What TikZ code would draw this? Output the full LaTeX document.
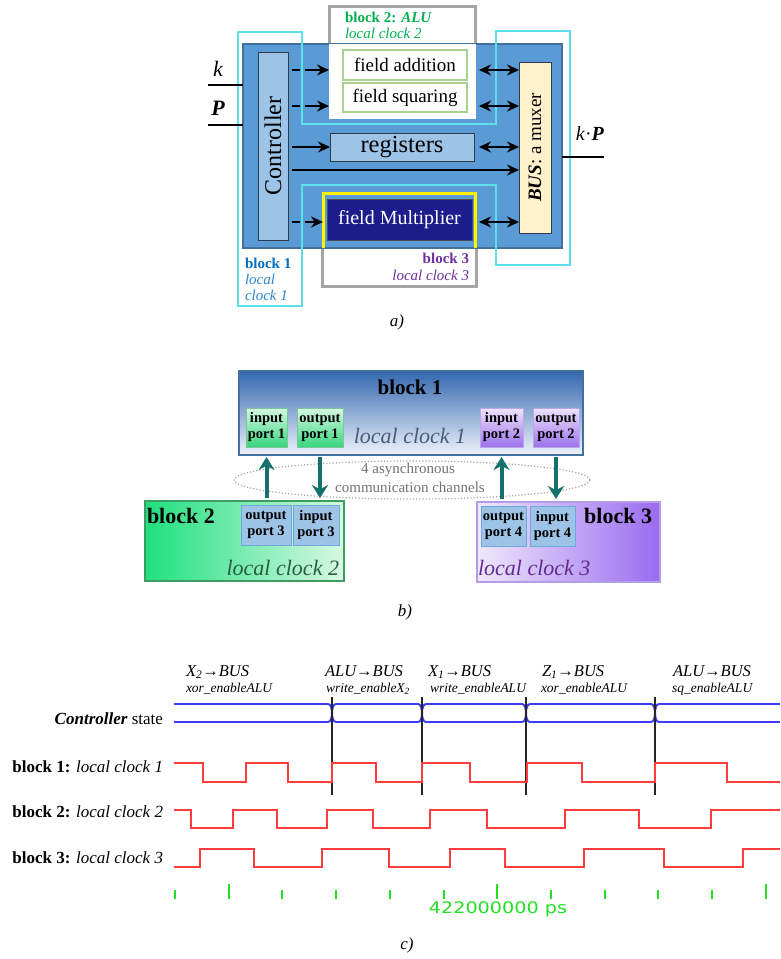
\documentclass[tikz,border=0pt]{standalone}
\usepackage{fontspec}
\setmainfont{Liberation Serif}
\newfontfamily\wavefont{DejaVu Sans}
\usetikzlibrary{arrows.meta,shapes.geometric}

\definecolor{mainblue}{HTML}{5B9BD5}
\definecolor{mainedge}{HTML}{41719C}
\definecolor{lightblue}{HTML}{9DC3E6}
\definecolor{boxedge}{HTML}{2F3A48}
\definecolor{cyanline}{HTML}{5CE0EA}
\definecolor{greyframe}{HTML}{A6A6A6}
\definecolor{alugreen}{HTML}{00B050}
\definecolor{fieldedge}{HTML}{A9D18E}
\definecolor{navy}{HTML}{1C1C8C}
\definecolor{busfill}{HTML}{FFF2CC}
\definecolor{bonecol}{HTML}{0070C0}
\definecolor{bonelight}{HTML}{2E86D0}
\definecolor{bthree}{HTML}{7030A0}
\definecolor{portblue}{HTML}{9DC3E6}
\definecolor{portedge}{HTML}{6FA8DC}
\definecolor{chanteal}{HTML}{16706B}
\definecolor{wblue}{HTML}{3C3CFF}
\definecolor{wred}{HTML}{FF3B3B}
\definecolor{wgreen}{HTML}{22E022}
% shading colours of the asynchronous blocks
\definecolor{oneTop}{HTML}{3467B0}
\definecolor{oneMid}{HTML}{B9CBE6}
\definecolor{oneBot}{HTML}{EEF3FA}
\definecolor{twoLeft}{HTML}{1FE07F}
\definecolor{twoRight}{HTML}{D8F8E4}
\definecolor{twoEdge}{HTML}{3E9E62}
\definecolor{threeLeft}{HTML}{EEE8FC}
\definecolor{threeRight}{HTML}{9A6BF0}
\definecolor{threeEdge}{HTML}{B39DE6}
\definecolor{gportTop}{HTML}{D6F7E2}
\definecolor{gportBot}{HTML}{38D67E}
\definecolor{gportEdge}{HTML}{7CC79A}
\definecolor{vportTop}{HTML}{ECE4FC}
\definecolor{vportBot}{HTML}{9E72EC}
\definecolor{vportEdge}{HTML}{BBA6EC}

\newcommand\fsz[2]{\fontsize{#1}{#2}\selectfont}

\begin{document}
\begin{tikzpicture}[x=1pt,y=-1pt,
  every node/.style={inner sep=0pt, outer sep=0pt},
  arr/.style={line width=1.8pt, -{Stealth[length=12pt,width=11pt]}},
  darr/.style={arr, dash pattern=on 8pt off 5pt on 60pt off 0pt},
  dblarr/.style={line width=1.8pt, {Stealth[length=12pt,width=11pt]}-{Stealth[length=12pt,width=11pt]}},
  hwbox/.style={draw=boxedge, line width=0.9pt},
  fieldbox/.style={fill=white, draw=fieldedge, line width=2pt, minimum width=124pt, font=\fsz{19}{22}},
  chan/.style={line width=4pt, draw=chanteal, -{Stealth[length=13pt,width=16pt]}},
  gport/.style={draw=gportEdge, line width=0.6pt, top color=gportTop, bottom color=gportBot, align=center, font=\bfseries\fsz{14.5}{16}},
  vport/.style={draw=vportEdge, line width=0.6pt, top color=vportTop, bottom color=vportBot, align=center, font=\bfseries\fsz{14.5}{16}},
  bport/.style={draw=portedge, line width=0.8pt, fill=portblue, align=center, font=\bfseries\fsz{14.5}{16}},
  rowlabel/.style={anchor=base east, font=\fsz{17}{20}},
  evlabel/.style={anchor=base west, align=left, font=\itshape\fsz{16.5}{19}},
  evsub/.style={anchor=base west, font=\itshape\fsz{13.5}{15}},
  clk/.style={draw=wred, line width=2pt},
  tick/.style={draw=wgreen, line width=2pt}]

\useasboundingbox[fill=white] (0,0) rectangle (780,959);

% ===================== a) architecture =====================
% frames of block 3 and block 2 behind the chip
\node[draw=greyframe, line width=3pt, fill=white, minimum width=154pt, minimum height=94pt] (bthreeframe) at (399,239) {};
\node[draw=greyframe, line width=3pt, fill=white, minimum width=146pt, minimum height=112pt] (btwoframe) at (402,62) {};
% chip
\node[draw=mainedge, line width=1.2pt, fill=mainblue, minimum width=319pt, minimum height=204pt] (chip) at (402.5,146) {};
% ALU area (block 2) inside the chip
\node[fill=white, draw=white, line width=1pt, minimum width=146pt, minimum height=74pt] (alu) at (402,81) {};
\node[anchor=base west, text=alugreen, font=\bfseries\fsz{15}{17}] (alutitle) at (345,22) {block 2: \textit{ALU}};
\node[anchor=base west, text=alugreen, font=\itshape\fsz{15}{17}] (aluclock) at (345,38) {local clock 2};
\node[fieldbox, minimum height=30pt] (fadd) at (405,65) {field addition};
\node[fieldbox, minimum height=29pt] (fsq) at (405,97.5) {field squaring};
% multiplier (block 3)
\node[minimum width=152pt, minimum height=55pt] (mulzone) at (399,220.5) {};
\draw[yellow, line width=3pt] (mulzone.south west) |- (mulzone.north east) -- (mulzone.south east);
\node[fill=navy, draw=black!70, line width=0.8pt, minimum width=145pt, minimum height=41pt, text=white, font=\fsz{20}{23}] (mult) at (399.5,219.5) {field Multiplier};
\node[anchor=base east, text=bthree, font=\bfseries\fsz{15}{17}] (bthreetitle) at (469,263) {block 3};
\node[anchor=base east, text=bthree, font=\itshape\fsz{15}{17}] (bthreeclock) at (469,280) {local clock 3};
% controller, registers, bus
\node[hwbox, fill=lightblue, minimum width=30pt, minimum height=188pt] (ctrl) at (273,146) {};
\node[rotate=90, font=\fsz{24}{26}] (ctrltext) at (ctrl.center) {Controller};
\node[hwbox, fill=lightblue, minimum width=144pt, minimum height=28pt, font=\fsz{24.5}{26}] (regs) at (402,147) {registers};
\node[hwbox, fill=busfill, minimum width=32pt, minimum height=171pt] (bus) at (535,147.5) {};
\node[rotate=90, font=\fsz{19}{22}] (bustext) at (bus.center) {\textbf{\textit{BUS}}: a muxer};

% block 1 outline
\draw[cyanline, line width=2.5pt, line join=miter]
  (238,32) -- (302,32) -- (302,124) -- (496,124) -- (496,31) -- (570,31) -- (570,265)
  -- (496,265) -- (496,185) -- (302,185) -- (302,306) -- (238,306) -- cycle;
\node[anchor=base west, text=bonecol, font=\bfseries\fsz{15}{17}] (bonetitle) at (245,268) {block 1};
\node[anchor=base west, text=bonelight, font=\itshape\fsz{15}{17}] (bonelocal) at (245,284) {local};
\node[anchor=base west, text=bonelight, font=\itshape\fsz{15}{17}] (boneclock) at (245,300) {clock 1};

% rows of the internal connections
\coordinate (rowadd) at (0,70);
\coordinate (rowsq) at (0,106);
\coordinate (rowreg) at (0,147);
\coordinate (rowbus) at (0,170);
\coordinate (rowmul) at (0,222);
\draw[darr] (ctrl.east |- rowadd) ++(4,0) -- (alu.west |- rowadd);
\draw[darr] (ctrl.east |- rowsq) ++(4,0) -- (alu.west |- rowsq);
\draw[arr] (ctrl.east |- rowreg) ++(4,0) -- (regs.west |- rowreg);
\draw[arr] (ctrl.east |- rowbus) ++(4,0) -- (bus.west |- rowbus);
\draw[darr] (ctrl.east |- rowmul) ++(4,0) -- (mulzone.west |- rowmul);
\draw[dblarr] (alu.east |- rowadd) ++(4,0) -- (bus.west |- rowadd);
\draw[dblarr] (alu.east |- rowsq) ++(4,0) -- (bus.west |- rowsq);
\draw[dblarr] (regs.east |- rowreg) ++(5,0) -- (bus.west |- rowreg);
\draw[dblarr] (mulzone.east |- rowmul) ++(4,0) -- (bus.west |- rowmul);

% inputs and output
\coordinate (kin) at (208,85);
\coordinate (pin) at (208,125);
\coordinate (kpout) at (604,157);
\draw[line width=2pt] (kin) -- (chip.west |- kin);
\draw[line width=2pt] (pin) -- (chip.west |- pin);
\draw[line width=2pt] (chip.east |- kpout) -- (kpout);
\node[font=\itshape\fsz{22}{24}] (klabel) at (218,69) {k};
\node[font=\bfseries\itshape\fsz{22}{24}] (plabel) at (218,108) {P};
\node[font=\fsz{20}{22}] (kplabel) at (590,134) {\textit{k}·\textbf{\textit{P}}};

\node[font=\itshape\fsz{17}{20}] (capa) at (397,322) {a)};

% ===================== b) asynchronous blocks =====================
\draw[gray!70, dotted, line width=1.2pt] (412,480) ellipse [x radius=178, y radius=19];
\node[gray!90!black, font=\fsz{15}{17}] (chtextone) at (408,470) {4 asynchronous};
\node[gray!90!black, font=\fsz{15}{17}] (chtexttwo) at (410,487) {communication channels};

\node[draw=mainedge, line width=1.2pt, top color=oneTop, middle color=oneMid, bottom color=oneBot, minimum width=344pt, minimum height=84pt] (blkone) at (411,413) {};
\node[font=\bfseries\fsz{21}{23}] (blkonetitle) at (410,387) {block 1};
\node[text=oneTop!50!black!80, font=\itshape\fsz{22}{24}] (blkoneclock) at (410,436) {local clock 1};
\node[gport, minimum width=41pt, minimum height=39pt] (ipone) at (266.5,427.5) {input\\port 1};
\node[gport, minimum width=46pt, minimum height=39pt] (opone) at (320,427.5) {output\\port 1};
\node[vport, minimum width=43pt, minimum height=39pt] (iptwo) at (501.5,427.5) {input\\port 2};
\node[vport, minimum width=46pt, minimum height=39pt] (optwo) at (556,427.5) {output\\port 2};

\node[draw=twoEdge, line width=1.2pt, left color=twoLeft, right color=twoRight, minimum width=199pt, minimum height=80pt] (blktwo) at (244.5,541) {};
\node[anchor=base west, font=\bfseries\fsz{22}{24}] (blktwotitle) at (147,523) {block 2};
\node[anchor=base east, text=twoEdge!60!black, font=\itshape\fsz{22}{24}] (blktwoclock) at (339,575) {local clock 2};
\node[bport, minimum width=50pt, minimum height=40pt] (opthree) at (266,525) {output\\port 3};
\node[bport, minimum width=46pt, minimum height=40pt] (ipthree) at (316,525) {input\\port 3};

\node[draw=threeEdge, line width=1.2pt, left color=threeLeft, right color=threeRight, minimum width=183pt, minimum height=80pt] (blkthree) at (568.5,542) {};
\node[anchor=base east, font=\bfseries\fsz{22}{24}] (blkthreetitle) at (652,523) {block 3};
\node[anchor=base west, text=bthree!90!black, font=\itshape\fsz{22}{24}] (blkthreeclock) at (478,575) {local clock 3};
\node[bport, minimum width=45pt, minimum height=40pt] (opfour) at (503.5,526) {output\\port 4};
\node[bport, minimum width=45pt, minimum height=40pt] (ipfour) at (552.5,526) {input\\port 4};

% channels: vertical, aligned on the ports of block 1
\draw[chan, shorten <=3pt, shorten >=2pt] (ipone |- blktwo.north) -- (ipone |- blkone.south);
\draw[chan, shorten <=2pt, shorten >=3pt] (opone |- blkone.south) -- (opone |- blktwo.north);
\draw[chan, shorten <=3pt, shorten >=2pt] (iptwo |- blkthree.north) -- (iptwo |- blkone.south);
\draw[chan, shorten <=2pt, shorten >=3pt] (optwo |- blkone.south) -- (optwo |- blkthree.north);

\node[font=\itshape\fsz{17}{20}] (capb) at (405,612) {b)};

% ===================== c) waveforms =====================
% event labels
\node[evlabel] (evone) at (186,676) {X\textsubscript{2}→BUS};
\node[evsub] (evonesub) at (186,692) {xor\_enableALU};
\node[evlabel] (evtwo) at (325,676) {ALU→BUS};
\node[evsub] (evtwosub) at (326,692) {write\_enableX\textsubscript{2}};
\node[evlabel] (evthree) at (428,676) {X\textsubscript{1}→BUS};
\node[evsub] (evthreesub) at (430,692) {write\_enableALU};
\node[evlabel] (evfour) at (542,676) {Z\textsubscript{1}→BUS};
\node[evsub] (evfoursub) at (541,692) {xor\_enableALU};
\node[evlabel] (evfive) at (673,676) {ALU→BUS};
\node[evsub] (evfivesub) at (672,692) {sq\_enableALU};

% row labels
\node[rowlabel] (lctrl) at (163,724) {\textbf{\textit{Controller}} state};
\node[rowlabel] (lone) at (163,772) {\textbf{block 1:} \textit{local clock 1}};
\node[rowlabel] (ltwo) at (163,817) {\textbf{block 2:} \textit{local clock 2}};
\node[rowlabel] (lthree) at (163,863) {\textbf{block 3:} \textit{local clock 3}};

% controller state bus
\begin{scope}[draw=wblue, line width=2pt]
  \draw (174,704) -- (328,704) (336,704) -- (418,704) (426,704) -- (522,704) (530,704) -- (651,704) (659,704) -- (780,704);
  \draw (174,722) -- (328,722) (336,722) -- (418,722) (426,722) -- (522,722) (530,722) -- (651,722) (659,722) -- (780,722);
  \foreach \t in {332,422,526,655} {
    \draw (\t-4,704) .. controls (\t-1,704) and (\t,709) .. (\t,713) .. controls (\t,709) and (\t+1,704) .. (\t+4,704);
    \draw (\t-4,722) .. controls (\t-1,722) and (\t,717) .. (\t,713) .. controls (\t,717) and (\t+1,722) .. (\t+4,722);
  }
\end{scope}
\foreach \t in {332,422,526,655}
  \draw[black!85, line width=2pt] (\t,697) -- (\t,795);

% clocks
\draw[clk] (174,763) -| (203,782) -| (246,763) -| (288,782) -| (332,763) -| (376,782) -| (422,763) -| (470,782) -| (527,763) -| (582,782) -| (655,763) -| (727,782) -- (780,782);
\draw[clk] (174,810) -| (191,828) -| (233,810) -| (277,828) -| (327,810) -| (373,828) -| (430,810) -| (487,828) -| (565,810) -| (639,828) -| (711,810) -- (780,810);
\draw[clk] (174,867) -| (200,849) -| (254,867) -| (322,849) -| (389,867) -| (450,849) -| (505,867) -| (584,849) -| (664,867) -| (743,849) -- (780,849);

% time axis
\foreach \k in {0,...,11} {
  \pgfmathsetmacro{\tx}{175+53.7*\k}
  \ifnum\k=1 \draw[tick] (\tx,884) -- (\tx,899);
  \else\ifnum\k=6 \draw[tick] (\tx,884) -- (\tx,899);
  \else\ifnum\k=11 \draw[tick] (\tx,884) -- (\tx,899);
  \else \draw[tick] (\tx,890) -- (\tx,899);
  \fi\fi\fi
}
\node[text=wgreen, xscale=1.2, font=\wavefont\fsz{16}{18}] (timestamp) at (498,909) {422000000 ps};

\node[font=\itshape\fsz{17}{20}] (capc) at (407,945) {c)};
\end{tikzpicture}
\end{document}
